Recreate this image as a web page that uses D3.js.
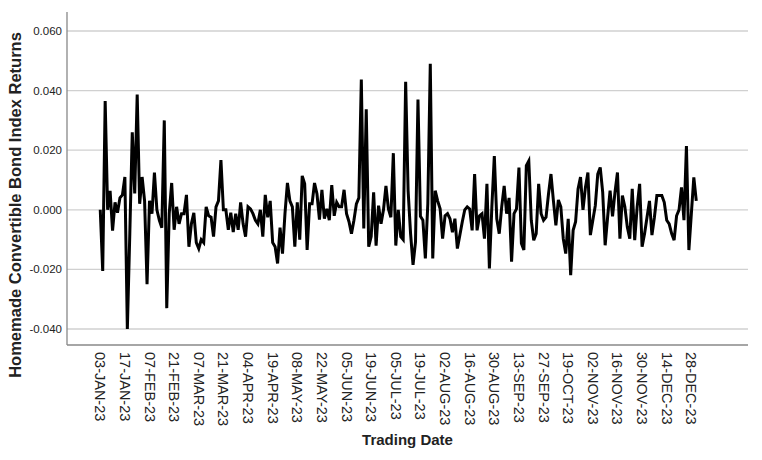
<!DOCTYPE html>
<html><head><meta charset="utf-8">
<script src="https://cdn.jsdelivr.net/npm/d3@7"></script>
<style>body{margin:0;background:#fff}svg{font-family:"Liberation Sans",Arial,sans-serif}</style>
</head><body><svg id="c" width="762" height="460"></svg>
<script>
const tickLabels=["03-JAN-23","17-JAN-23","07-FEB-23","21-FEB-23","07-MAR-23","21-MAR-23","04-APR-23","19-APR-23","08-MAY-23","22-MAY-23","05-JUN-23","19-JUN-23","05-JUL-23","19-JUL-23","02-AUG-23","16-AUG-23","30-AUG-23","13-SEP-23","27-SEP-23","19-OCT-23","02-NOV-23","16-NOV-23","30-NOV-23","14-DEC-23","28-DEC-23"];
const yTicks=[-0.04,-0.02,0,0.02,0.04,0.06];
// returns in units of 0.001
const returnsMilli=[0,-20.5,36.5,0,6.4,-7,2.5,-1,4,5,11,-40,-8,26,5.5,38.7,2,11,3,-25,3,-1.3,12.5,0,-3.5,-6,30,-33,-1.3,9,-6.7,1,-4.7,-1.3,-1.3,5,-12.4,-4.7,-1,-11,-13,-10,-11,1,-2,-2.5,-9,1,3,16.7,0,0,-6.7,-1,-7.5,-1.3,-6.7,2.5,-4.7,-9,1,0.3,-1.3,-3.5,-4.7,0,-9,5,-2.5,3,-11,-12.4,-18,-6,-14.7,-1.3,9,3,
1,-12.4,2.5,-10,11.4,8.7,-13.5,2,2,9,5.3,-3.3,6.7,-3,0.3,-3.5,8.3,-2,2.5,1,1,6.7,-1.3,-4,-8,-3.5,2,4,43.7,-6.3,33.7,-12.4,-9,5.9,-12,1.4,-4.7,0,8,0.3,-2.5,19,-12,0,-9,-10,43,6.4,-8,-18.5,-10.8,37,-2.2,-3.5,-16.3,2,49,-16.3,6.4,3,0.3,-9.7,-2,-1.3,-3,-7.5,-3,-13,-8.5,-4,0,1,0.3,-6.9,12,-6.9,-2,-1.3,-9.7,8.7,-19.7,1,18,-3,-8,1,8,-1.3,4,-17.4,
-1.3,0.3,14.2,-11.3,-13.5,14.8,16.4,-3.5,-10.2,-8,8.7,-1.3,-3.5,-2.5,5.3,12,3,-5.2,3.3,1,-9.7,-14.7,-3,-21.9,-6.9,-4,7,11,0,7.5,12.5,-8.5,-3.5,1.4,12,14.2,5.9,-11.9,-2.5,6.4,-2.2,5.9,12.5,-9.7,4.8,1,-5.8,-9.7,7,-10.2,1,8.7,-12.4,-8,-2.5,3,-8.5,-2.5,4.8,4.8,4.8,2.5,-3.5,-4.7,-8,-10.2,-2,0,7.5,-3.5,21.4,-13.5,-1.3,10.9,3];
const returns=returnsMilli.map(v=>v/1000);
const svg=d3.select("#c");
const L=67,R=748,T=12,B=345;
const x=d3.scaleLinear().domain([-13.5,263]).range([L,R]);
const y=d3.scaleLinear().domain([-0.04,0.06]).range([329,31]);
svg.append("g").selectAll("line").data(yTicks).join("line")
 .attr("x1",L).attr("x2",R).attr("y1",d=>y(d)).attr("y2",d=>y(d)).attr("stroke","#d0d0d0").attr("stroke-width",1.3);
svg.append("g").selectAll("text").data(yTicks).join("text")
 .attr("x",L-5).attr("y",d=>y(d)+4).attr("text-anchor","end").attr("font-size",11.5).attr("fill","#222")
 .text(d=>d3.format(".3f")(d).replace("−","-"));
svg.append("line").attr("x1",L).attr("x2",L).attr("y1",T).attr("y2",B).attr("stroke","#888").attr("stroke-width",1.3);
svg.append("line").attr("x1",L).attr("x2",R).attr("y1",B).attr("y2",B).attr("stroke","#888").attr("stroke-width",1.3);
svg.append("g").selectAll("text").data(tickLabels).join("text")
 .attr("transform",(d,i)=>`translate(${x(i*10)-5},352) rotate(90)`).attr("font-size",14.5).attr("fill","#222").text(d=>d);
svg.append("path").datum(returns).attr("fill","none").attr("stroke","#000").attr("stroke-width",3).attr("stroke-linejoin","miter")
 .attr("d",d3.line().x((d,i)=>x(i)).y(d=>y(d)));
svg.append("text").attr("x",(L+R)/2).attr("y",445).attr("text-anchor","middle").attr("font-size",15).attr("font-weight","bold").attr("fill","#222").text("Trading Date");
svg.append("text").attr("transform",`translate(21,205) rotate(-90)`).attr("text-anchor","middle").attr("font-size",16.5).attr("font-weight","bold").attr("fill","#222").text("Homemade Convertible Bond Index Returns");
</script></body></html>
